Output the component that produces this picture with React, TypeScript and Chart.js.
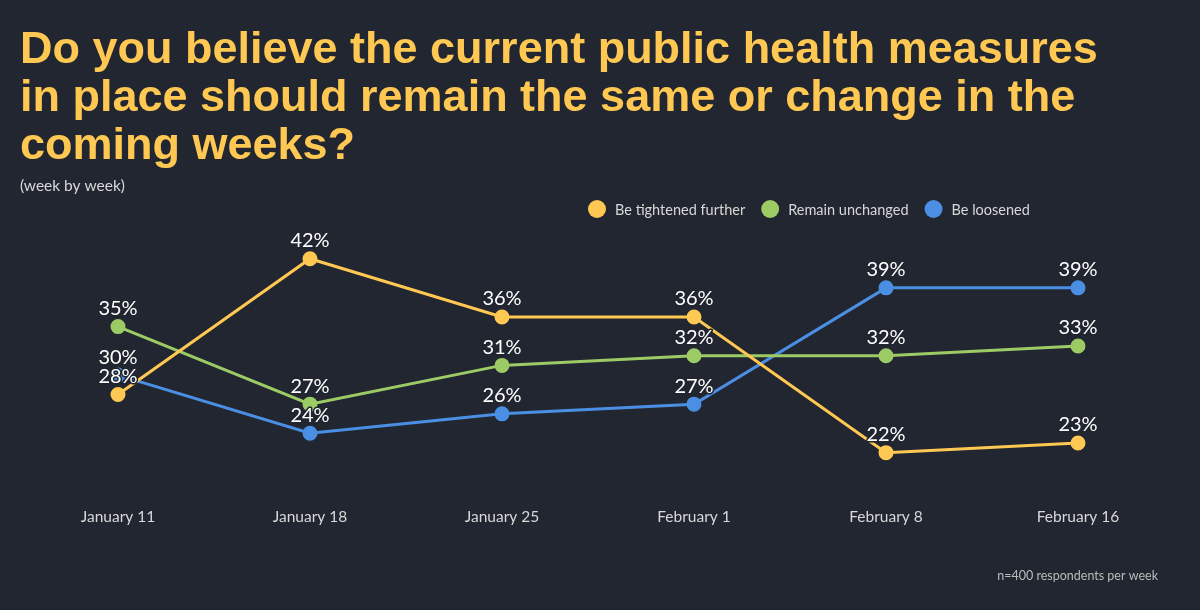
import React, { useEffect, useRef } from "react";
import { Chart, registerables } from "chart.js";

Chart.register(...registerables);

const categories = ["January 11", "January 18", "January 25", "February 1", "February 8", "February 16"];
const tightened = [28, 42, 36, 36, 22, 23];
const unchanged = [35, 27, 31, 32, 32, 33];
const loosened = [30, 24, 26, 27, 39, 39];
const seriesNames = ["Be tightened further", "Remain unchanged", "Be loosened"];

const titleLines = [
  "Do you believe the current public health measures",
  "in place should remain the same or change in the",
  "coming weeks?",
];
const subtitle = "(week by week)";
const footnote = "n=400 respondents per week";

const BG = "#212630";
const YELLOW = "#FFC853";
const GREEN = "#9CCB66";
const BLUE = "#4A8FE3";
const TEXT_FONT = "Lato, 'Open Sans', sans-serif";

const decorPlugin = {
  id: "decor",
  beforeDraw(chart: any) {
    const { ctx, width, height } = chart;
    ctx.save();
    ctx.fillStyle = BG;
    ctx.fillRect(0, 0, width, height);
    ctx.restore();
  },
  afterDraw(chart: any) {
    const { ctx } = chart;
    ctx.save();
    // title
    ctx.fillStyle = YELLOW;
    ctx.font = "bold 45px 'Liberation Sans', Arial, sans-serif";
    ctx.textBaseline = "alphabetic";
    ctx.textAlign = "left";
    titleLines.forEach((l, i) => ctx.fillText(l, 20, 63 + i * 48));
    // subtitle
    ctx.fillStyle = "#d8d8d8";
    ctx.font = `15.5px ${TEXT_FONT}`;
    ctx.textBaseline = "middle";
    ctx.fillText(subtitle, 20, 186);
    // legend
    const colors = [YELLOW, GREEN, BLUE];
    ctx.font = `14.5px ${TEXT_FONT}`;
    let x = 588;
    seriesNames.forEach((name, i) => {
      ctx.fillStyle = colors[i];
      ctx.beginPath();
      ctx.arc(x + 9, 209, 9, 0, Math.PI * 2);
      ctx.fill();
      ctx.fillStyle = "#d8d8d8";
      ctx.fillText(name, x + 27, 210);
      x += 27 + ctx.measureText(name).width + 16;
    });
    // footnote
    ctx.font = `12.5px ${TEXT_FONT}`;
    ctx.fillStyle = "#bbbbbb";
    ctx.textAlign = "right";
    ctx.fillText(footnote, 1158, 576);
    ctx.restore();
  },
  afterDatasetsDraw(chart: any) {
    const { ctx } = chart;
    ctx.save();
    ctx.font = `20px ${TEXT_FONT}`;
    ctx.textAlign = "center";
    ctx.textBaseline = "middle";
    ctx.lineJoin = "round";
    chart.data.datasets.forEach((ds: any, di: number) => {
      const meta = chart.getDatasetMeta(di);
      meta.data.forEach((pt: any, i: number) => {
        const txt = ds.data[i] + "%";
        ctx.lineWidth = 3;
        ctx.strokeStyle = BG;
        ctx.strokeText(txt, pt.x, pt.y - 18);
        ctx.fillStyle = "#ffffff";
        ctx.fillText(txt, pt.x, pt.y - 18);
      });
    });
    ctx.restore();
  },
};

export default function App() {
  const ref = useRef<HTMLCanvasElement>(null);
  useEffect(() => {
    document.body.style.margin = "0";
    document.body.style.background = BG;
    const mk = (label: string, data: number[], color: string) => ({
      label,
      data,
      borderColor: color,
      backgroundColor: color,
      pointBackgroundColor: color,
      pointBorderColor: color,
      borderWidth: 3,
      pointRadius: 6,
      tension: 0,
    });
    const chart = new Chart(ref.current!, {
      type: "line",
      data: {
        labels: categories,
        datasets: [mk(seriesNames[0], tightened, YELLOW), mk(seriesNames[1], unchanged, GREEN), mk(seriesNames[2], loosened, BLUE)],
      },
      options: {
        animation: false,
        responsive: false,
        layout: { padding: { top: 220, left: 22, right: 26, bottom: 68 } },
        plugins: { legend: { display: false }, title: { display: false }, tooltip: { enabled: false } },
        scales: {
          x: {
            offset: true,
            grid: { display: false, drawTicks: false },
            border: { display: false },
            ticks: { color: "#d8d8d8", font: { family: TEXT_FONT, size: 15.5 }, padding: 16 },
          },
          y: { display: false, min: 18, max: 46 },
        },
      },
      plugins: [decorPlugin],
    });
    return () => chart.destroy();
  }, []);
  return (
    <div style={{ width: 1200, height: 610 }}>
      <canvas ref={ref} width={1200} height={610} />
    </div>
  );
}
